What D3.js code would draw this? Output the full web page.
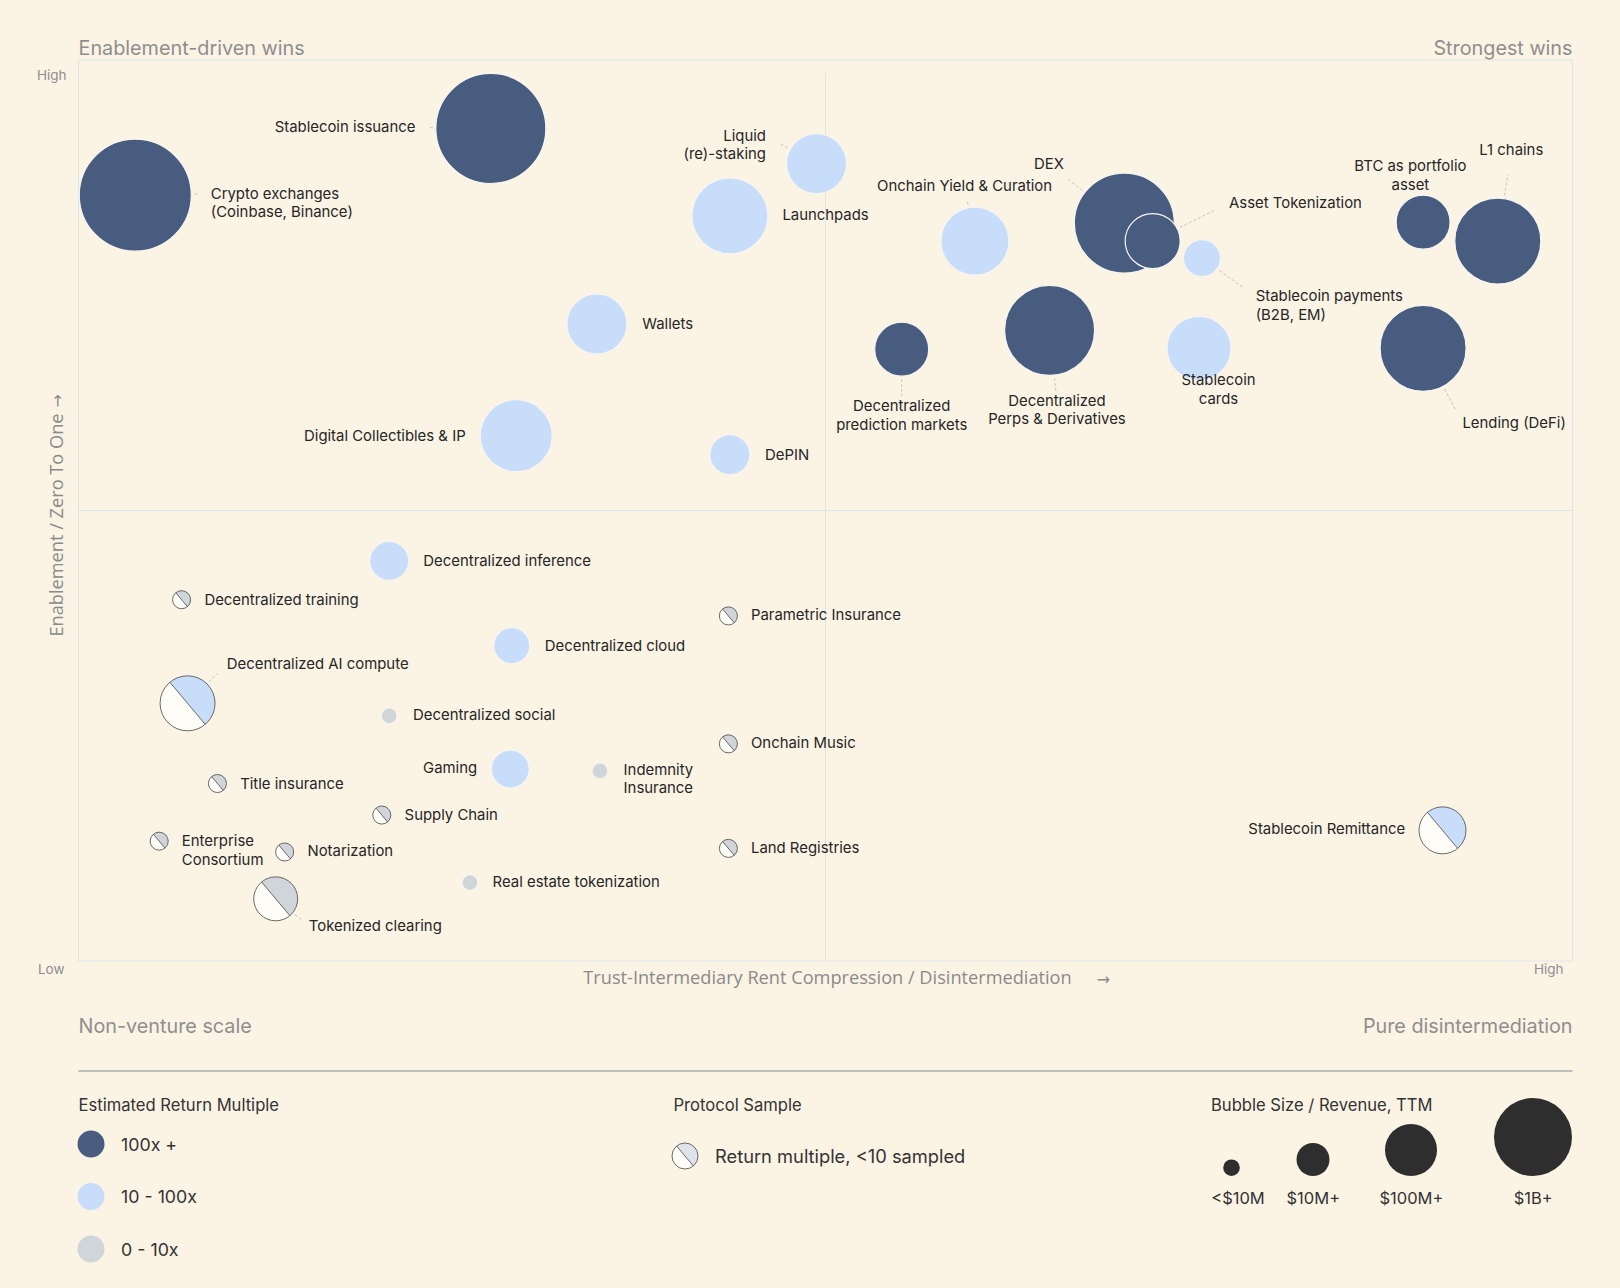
<!DOCTYPE html>
<html>
    <head>
        <script src="https://cdnjs.cloudflare.com/ajax/libs/d3/7.8.5/d3.min.js"></script>
        <title>Crypto categories</title>
        <style>
            html, body {
                margin: 0;
                background-color: #fbf4e5;
            }
            .chart {
                display: block;
            }
            .chart text {
                font-family: Inter, "Liberation Sans", sans-serif;
            }
        </style>
    </head>
    <body>
        <svg width="1620" height="1288" class="chart"></svg>

        <script>

            // categories, in drawing order
            var names = [
                "Crypto exchanges\n(Coinbase, Binance)", "Stablecoin issuance", "Liquid\n(re)-staking",
                "Launchpads", "Wallets", "Digital Collectibles & IP", "DePIN", "Onchain Yield & Curation",
                "DEX", "Asset Tokenization", "Stablecoin payments\n(B2B, EM)", "BTC as portfolio\nasset",
                "L1 chains", "Decentralized\nprediction markets", "Decentralized\nPerps & Derivatives",
                "Stablecoin\ncards", "Lending (DeFi)", "Decentralized inference", "Decentralized training",
                "Parametric Insurance", "Decentralized cloud", "Decentralized AI compute", "Decentralized social",
                "Onchain Music", "Gaming", "Indemnity\nInsurance", "Title insurance", "Supply Chain",
                "Stablecoin Remittance", "Enterprise\nConsortium", "Notarization", "Land Registries",
                "Real estate tokenization", "Tokenized clearing"
            ];

            // disintermediation (0 low - 10 high)
            var disintermediation = [
                0.38, 2.76, 4.94, 4.36, 3.47, 2.93, 4.36, 6.00, 7.00, 7.19, 7.52, 9.00, 9.50, 5.51, 6.50, 7.50, 9.00,
                2.08, 0.69, 4.35, 2.90, 0.73, 2.08, 4.35, 2.89, 3.49, 0.93, 2.03, 9.13, 0.54, 1.38, 4.35, 2.62, 1.32
            ];

            // enablement / zero to one (0 low - 10 high)
            var enablement = [
                8.50, 9.24, 8.85, 8.27, 7.07, 5.83, 5.62, 7.99, 8.19, 7.99, 7.80, 8.20, 7.99, 6.79, 7.00, 6.80, 6.80,
                4.44, 4.01, 3.83, 3.50, 2.86, 2.72, 2.41, 2.13, 2.11, 1.97, 1.62, 1.45, 1.33, 1.21, 1.25, 0.87, 0.69
            ];

            // relative revenue (bubble area)
            var revenue = [
                100, 96.5, 28.7, 46, 28.7, 41.3, 12.8, 36.9, 79.7, 24.1, 10.9, 23.2, 59, 23.2, 64.6, 32.7, 59,
                12.1, 2.6, 2.6, 10.3, 24.1, 2.0, 2.6, 11.5, 2.0, 2.6, 2.6, 17.6, 2.6, 2.6, 2.6, 2.0, 15.4
            ];

            var tierNames = ["100x +", "10 - 100x", "0 - 10x"];

            // index into tierNames
            var returnTier = [
                0, 0, 1, 1, 1, 1, 1, 1, 0, 0, 1, 0, 0, 0, 0, 1, 0,
                1, 2, 2, 1, 1, 2, 2, 1, 2, 2, 2, 1, 2, 2, 2, 2, 2
            ];

            // fewer than 10 protocols sampled
            var lowSample = [
                false, false, false, false, false, false, false, false, false, false, false, false, false, false, false, false, false,
                false, true, true, false, true, false, true, false, false, true, true, true, true, true, true, false, true
            ];

            var sizeLegendLabels = ["<$10M", "$10M+", "$100M+", "$1B+"];
            var sizeLegendRevenue = [2.2, 8.7, 21.6, 48.5];

            var axisLabels = ["Low", "High"];

            // label placement: [dx, dy, anchor, leader length]
            var labelLayout = [
                [75.5, -1.3, "start", 4], [-75.4, -1, "end", 4], [-50.6, -27.9, "end", 8],
                [52.5, -1, "start", 0], [45.4, 0, "start", 0], [-50.6, 0, "end", 0], [35.1, 0, "start", 0],
                [-10.3, -54.7, "middle", 5], [-75.4, -58.9, "middle", 19], [76.4, -38.2, "start", 39],
                [53.7, 38.2, "start", 30], [-12.7, -55.8, "middle", 0], [13.5, -90.7, "middle", 21],
                [0, 56.8, "middle", 17], [7.3, 70.4, "middle", 13], [19.5, 31.8, "middle", 0],
                [39.3, 74.4, "start", 25], [34.1, 0, "start", 0], [22.8, 0, "start", 0], [22.6, -1, "start", 0],
                [33, 0, "start", 0], [39.3, -39.3, "start", 12], [23.8, -1, "start", 0], [22.6, -1, "start", 0],
                [-33.1, -1, "end", 0], [23.7, -1, "start", 0], [22.7, 0, "start", 0], [22.8, 0, "start", 0],
                [-37.4, -1, "end", 0], [22.7, 0, "start", 0], [22.8, -1, "start", 0], [22.6, 0, "start", 0],
                [22.7, -1, "start", 0], [33.1, 26.8, "start", 8]
            ];

            var bg = "#fbf4e5";
            var halfWhite = "#fffdf8";
            var lineHeight = 18.6;
            var axisGrey = "#8a8a8a";

            var x = d3.scaleLinear().domain([0, 10]).range([78.5, 1572.5]);
            var y = d3.scaleLinear().domain([0, 10]).range([961, 60]);
            var radius = d3.scaleSqrt().domain([0, 100]).range([0, 56]);
            var colour = d3.scaleOrdinal().domain([0, 1, 2]).range(["#475c7f", "#c8ddf9", "#d0d5d9"]);

            // split angle for the "<10 sampled" bubbles (d3.arc angles)
            var cut = -40 * Math.PI / 180;
            var arc = d3.arc().innerRadius(0);

            var points = names.map(function(n, i){
                return {
                    name: n,
                    x: disintermediation[i],
                    y: enablement[i],
                    r: radius(revenue[i]),
                    tier: returnTier[i],
                    hatched: lowSample[i],
                    label: labelLayout[i]
                };
            });

            var svg = d3.select(".chart");

            svg.append("rect")
                .attr("width", 1620)
                .attr("height", 1288)
                .attr("fill", bg);

            // frame and quadrant lines
            var frame = svg.append("g")
                .attr("fill", "none")
                .attr("stroke", "#dfe4ea")
                .attr("stroke-width", 1);

            frame.append("rect")
                .attr("x", x(0))
                .attr("y", y(10))
                .attr("width", x(10) - x(0))
                .attr("height", y(0) - y(10));

            frame.append("line")
                .attr("x1", x(5)).attr("x2", x(5))
                .attr("y1", y(10) + 13).attr("y2", y(0));

            frame.append("line")
                .attr("x1", x(0)).attr("x2", x(10))
                .attr("y1", y(5)).attr("y2", y(5));

            // quadrant captions
            function caption(txt, px, py, anchor){
                svg.append("text")
                    .attr("x", px)
                    .attr("y", py)
                    .attr("text-anchor", anchor)
                    .attr("dominant-baseline", "central")
                    .style("font-size", "19.8px")
                    .attr("fill", "#8e8e8e")
                    .text(txt);
            }
            caption("Enablement-driven wins", x(0), 47.5, "start");
            caption("Strongest wins", x(10), 47.5, "end");
            caption("Non-venture scale", x(0), 1026, "start");
            caption("Pure disintermediation", x(10), 1026, "end");

            // low / high marks
            var tickStyle = function(sel){
                sel.attr("dominant-baseline", "central")
                    .attr("text-anchor", "end")
                    .style("font-size", "13.5px")
                    .attr("fill", "#8e8e8e");
            };
            svg.append("text").attr("x", x(0) - 12).attr("y", y(10) + 15).call(tickStyle).text(axisLabels[1]);
            svg.append("text").attr("x", x(0) - 14).attr("y", y(0) + 8).call(tickStyle).text(axisLabels[0]);
            svg.append("text").attr("x", x(10) - 9).attr("y", y(0) + 8).call(tickStyle).text(axisLabels[1]);

            // axis titles
            var titleStyle = function(sel, size, family){
                sel.attr("dominant-baseline", "central")
                    .style("font-family", family || "'Open Sans', sans-serif")
                    .style("font-size", size)
                    .attr("fill", axisGrey);
            };

            var xTitle = svg.append("text")
                .attr("x", x(5) + 2)
                .attr("y", 977)
                .attr("text-anchor", "middle")
                .call(titleStyle, "18.2px")
                .text("Trust-Intermediary Rent Compression / Disintermediation");

            var xTitleLen = xTitle.node().getComputedTextLength();
            svg.append("text")
                .attr("x", x(5) + 2 + xTitleLen / 2 + 25)
                .attr("y", 979)
                .call(titleStyle, "16px", "'DejaVu Sans', sans-serif")
                .text("→");

            var yTitle = svg.append("text")
                .attr("transform", "translate(56,525) rotate(-90)")
                .attr("text-anchor", "middle")
                .call(titleStyle, "18.2px")
                .text("Enablement / Zero To One");

            var yTitleLen = yTitle.node().getComputedTextLength();
            svg.append("text")
                .attr("transform", "translate(57," + (525 - yTitleLen / 2 - 6) + ") rotate(-90)")
                .call(titleStyle, "16px", "'DejaVu Sans', sans-serif")
                .text("→");

            // bubbles
            var bubbles = svg.append("g")
                .selectAll("g")
                .data(points)
                .enter()
                .append("g")
                .attr("transform", function(d){
                    return "translate(" + x(d.x) + "," + y(d.y) + ")";
                });

            bubbles.filter(function(d){ return !d.hatched; })
                .append("circle")
                .attr("r", function(d){ return d.r; })
                .attr("fill", function(d){ return colour(d.tier); })
                .attr("stroke", "#f7f5f0")
                .attr("stroke-width", 1.2);

            function drawHatched(sel, rOf, fillOf){
                sel.append("path")
                    .attr("d", function(d){
                        return arc({outerRadius: rOf(d), startAngle: cut, endAngle: cut + Math.PI});
                    })
                    .attr("fill", fillOf);
                sel.append("path")
                    .attr("d", function(d){
                        return arc({outerRadius: rOf(d), startAngle: cut + Math.PI, endAngle: cut + 2 * Math.PI});
                    })
                    .attr("fill", halfWhite);
                sel.append("circle")
                    .attr("r", rOf)
                    .attr("fill", "none")
                    .attr("stroke", "#595959")
                    .attr("stroke-width", 0.9);
                sel.append("line")
                    .attr("x1", function(d){ return rOf(d) * Math.sin(cut); })
                    .attr("y1", function(d){ return -rOf(d) * Math.cos(cut); })
                    .attr("x2", function(d){ return -rOf(d) * Math.sin(cut); })
                    .attr("y2", function(d){ return rOf(d) * Math.cos(cut); })
                    .attr("stroke", "#595959")
                    .attr("stroke-width", 0.9);
            }

            drawHatched(bubbles.filter(function(d){ return d.hatched; }),
                function(d){ return d.r; },
                function(d){ return colour(d.tier); });

            // labels and leader lines
            var labels = svg.append("g")
                .selectAll("g")
                .data(points)
                .enter()
                .append("g")
                .attr("transform", function(d){
                    return "translate(" + x(d.x) + "," + y(d.y) + ")";
                });

            labels.filter(function(d){ return d.label[3] > 0; })
                .append("line")
                .each(function(d){
                    var len = Math.sqrt(d.label[0] * d.label[0] + d.label[1] * d.label[1]);
                    var ux = d.label[0] / len, uy = d.label[1] / len;
                    d3.select(this)
                        .attr("x1", ux * (d.r + 3)).attr("y1", uy * (d.r + 3))
                        .attr("x2", ux * (d.r + 3 + d.label[3])).attr("y2", uy * (d.r + 3 + d.label[3]));
                })
                .attr("stroke", "#c4c4c4")
                .attr("stroke-width", 1)
                .attr("stroke-dasharray", "3,2");

            labels.append("text")
                .attr("x", function(d){ return d.label[0]; })
                .attr("y", function(d){ return d.label[1]; })
                .attr("text-anchor", function(d){ return d.label[2]; })
                .attr("dominant-baseline", "central")
                .style("font-size", "14.9px")
                .attr("fill", "#262626")
                .each(function(d){
                    var t = d3.select(this);
                    d.name.split("\n").forEach(function(line, k){
                        t.append("tspan")
                            .attr("x", d.label[0])
                            .attr("dy", k === 0 ? 0 : lineHeight)
                            .text(line);
                    });
                });

            // legend
            svg.append("line")
                .attr("x1", x(0)).attr("x2", x(10))
                .attr("y1", 1071).attr("y2", 1071)
                .attr("stroke", "#ababab")
                .attr("stroke-width", 1.5);

            var legend = svg.append("g");

            function legendTitle(txt, px){
                legend.append("text")
                    .attr("x", px)
                    .attr("y", 1104.5)
                    .attr("dominant-baseline", "central")
                    .style("font-size", "16.6px")
                    .attr("fill", "#333")
                    .text(txt);
            }
            legendTitle("Estimated Return Multiple", 78.5);
            legendTitle("Protocol Sample", 673.5);
            legendTitle("Bubble Size / Revenue, TTM", 1211);

            var tierRow = legend.selectAll("g.tier")
                .data(tierNames)
                .enter()
                .append("g")
                .attr("class", "tier")
                .attr("transform", function(d, i){
                    return "translate(91," + (1144 + i * 52.5) + ")";
                });

            tierRow.append("circle")
                .attr("r", 13.5)
                .attr("fill", function(d, i){ return colour(i); });

            tierRow.append("text")
                .attr("x", 30)
                .attr("dominant-baseline", "central")
                .style("font-size", "17.8px")
                .attr("fill", "#333")
                .text(function(d){ return d; });

            var sampleKey = legend.append("g")
                .datum({r: 13})
                .attr("transform", "translate(685,1156)");

            drawHatched(sampleKey, function(d){ return d.r; }, function(){ return "#dfe4ec"; });

            sampleKey.append("text")
                .attr("x", 30)
                .attr("dominant-baseline", "central")
                .style("font-size", "18.3px")
                .attr("fill", "#333")
                .text("Return multiple, <10 sampled");

            var sizeX = [1231.5, 1313, 1411, 1533];
            var sizeLabelX = [1238, 1313.3, 1411.4, 1533.3];
            var sizeKey = legend.selectAll("g.size")
                .data(sizeLegendLabels)
                .enter()
                .append("g")
                .attr("class", "size");

            sizeKey.append("circle")
                .attr("cx", function(d, i){ return sizeX[i]; })
                .attr("cy", function(d, i){ return 1176 - radius(sizeLegendRevenue[i]); })
                .attr("r", function(d, i){ return radius(sizeLegendRevenue[i]); })
                .attr("fill", "#2e2e2e");

            sizeKey.append("text")
                .attr("x", function(d, i){ return sizeLabelX[i]; })
                .attr("y", 1197.5)
                .attr("text-anchor", "middle")
                .attr("dominant-baseline", "central")
                .style("font-size", "16.5px")
                .attr("fill", "#333")
                .text(function(d){ return d; });

        </script>
    </body>
</html>
